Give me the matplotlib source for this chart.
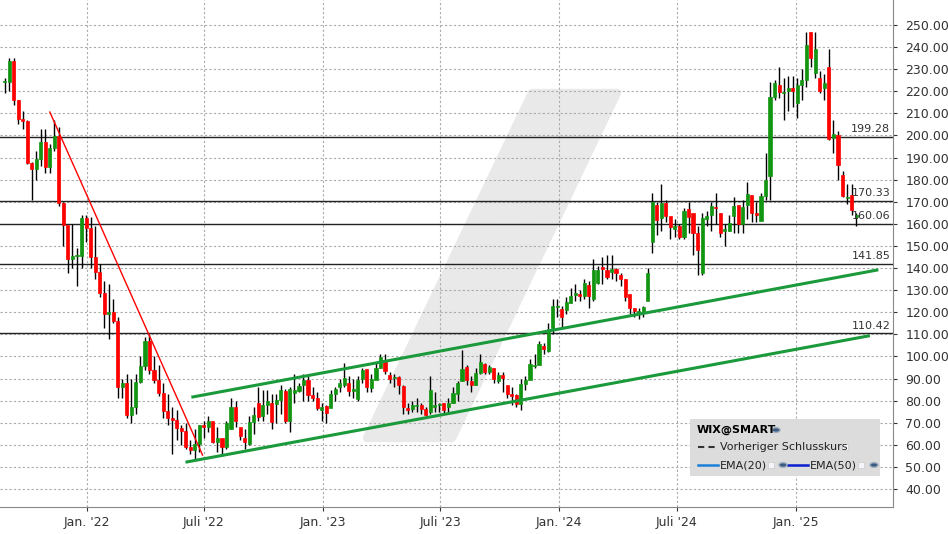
import matplotlib
matplotlib.use("Agg")
import matplotlib.pyplot as plt
import matplotlib.dates as mdates
from matplotlib.patches import Polygon, Rectangle
import pandas as pd

# weekly candles, WIX
opens = [224, 224, 233.7, 216, 207.5, 206.7, 187.4, 185, 189.4, 197.2,
         185.9, 194.5, 199.8, 169.3, 159.5, 144.1, 145.5, 145.5, 162.5, 158,
         145, 138.4, 128.6, 119, 120, 116, 86.4, 88.2, 73.5, 77.3,
         88.6, 95.7, 107, 93.9, 89.4, 83.4, 75.5, 72, 71.3, 67.5,
         66.3, 59.2, 57.7, 60.4, 69, 68.2, 70.6, 61.1, 63, 59.2,
         67, 77, 68, 63, 60.5, 70.5, 79, 73, 78, 79,
         78.5, 80.3, 84.5, 71, 83.5, 84.2, 87.1, 89.4, 82.6, 81,
         76, 77.6, 76.6, 83, 86, 87.1, 87.9, 84.6, 80.6, 89.7,
         94.2, 85.6, 89.4, 94.6, 98.4, 91.7, 90.1, 90.6, 86.7, 76.6,
         76.2, 77.4, 78.1, 76.1, 74.7, 77, 78, 79.1, 77, 78.9,
         83, 89, 95.1, 89.1, 87.1, 92.7, 96.5, 93.1, 95, 89.1,
         91.6, 87.1, 83, 82.6, 78.5, 87.6, 89.4, 95.7, 96, 104.8,
         102.3, 113, 122.2, 121.4, 120.9, 124.1, 127.9, 128.3, 127.2, 132.4,
         126, 133.2, 140.4, 139.1, 138.4, 139.5, 136.8, 134.9, 128.3, 121.8,
         119.8, 119.8, 125, 152, 168.5, 162.6, 169.6, 163.6, 157.6, 159,
         154.2, 166.6, 164.8, 156, 137.6, 162.1, 164, 167.5, 164.8, 156.9,
         157, 163.6, 168.6, 160, 168.6, 173.1, 164.8, 161.5, 172.6, 181.8,
         217.6, 222.8, 219.2, 220.3, 221.6, 214.9, 222.9, 225.1, 246.9, 228.1,
         226.2, 221.3, 230.8, 198.8, 200.2, 182.1, 171.6, 173.1, 163.2]
closes = [224, 233.7, 216, 207.5, 206.7, 187.4, 185, 189.4, 197.2, 185.9,
          194.5, 199.8, 169.3, 159.5, 144.1, 145.5, 145.5, 162.5, 158, 145,
          138.4, 128.6, 119, 120, 116, 86.4, 88.2, 73.5, 77.3, 88.6,
          95.7, 107, 93.9, 89.4, 83.4, 75.5, 72, 71.3, 67.5, 66.3,
          59.2, 57.7, 60.4, 69, 68.2, 70.6, 61.1, 63, 59.2, 69.8,
          77, 71, 64, 61.5, 70.5, 73.5, 72.5, 78, 80, 70.5,
          80.3, 85, 71, 85.2, 84.8, 86.7, 89.4, 82.6, 81, 76.6,
          77, 74.6, 83, 85.2, 87.9, 90.3, 84.6, 85.2, 89.4, 93.9,
          86.4, 89.7, 94.6, 99.6, 93.6, 89.8, 90.9, 87.1, 77, 76,
          78, 77.6, 76.1, 73.5, 84.8, 78, 78.5, 76, 79.1, 83.6,
          88.2, 94.2, 89.4, 87.1, 92.4, 97.7, 93.1, 95.4, 89.7, 91.6,
          90.4, 83, 82.2, 78.5, 87.6, 89.4, 96.6, 96, 105.7, 103.3,
          112.3, 122.9, 123, 118, 124.8, 127.4, 128.6, 127.4, 133.1, 127.4,
          139.2, 139.2, 139.5, 135.8, 139.5, 137.6, 135, 127, 121.8, 120.8,
          119.8, 122.3, 137.9, 170.1, 161.8, 169.3, 163.6, 158.5, 159, 154.2,
          166, 163.3, 156, 148.2, 162.5, 163.6, 168.1, 167, 156, 157,
          160.6, 168.1, 160, 167.5, 173.5, 164.8, 164, 172.6, 179.9, 217.3,
          223.9, 219.8, 219.8, 221.3, 220.3, 222.9, 225.1, 241, 235, 239,
          220.3, 223.9, 198.3, 200.7, 186.7, 172.6, 172, 166.3, 164]
highs = [226, 235, 235, 216, 211, 207, 188, 193, 203, 203,
         196, 207, 204, 170, 150, 160, 149, 164, 164, 163,
         159, 142, 134, 133, 126, 118, 90, 92, 90, 92,
         100, 109, 110, 100, 96, 88, 83, 77, 76, 69,
         70, 62, 67, 69, 71, 73, 70, 68, 61, 71,
         81, 80, 67, 67, 73, 77, 86, 85, 85, 83,
         83, 87, 85.5, 86, 92, 88, 92, 91, 86, 84,
         79, 78, 85, 86, 90, 97, 91, 90, 91, 95,
         94, 92, 97, 101, 101, 93, 92, 91, 87, 79,
         80, 81, 79, 77, 91, 84, 79, 79, 81, 86,
         89, 103, 96, 91, 95, 101, 97, 96, 95, 93,
         93, 85, 86, 83, 90, 91, 99, 101, 107, 106,
         115, 126, 126, 123, 127, 131, 133, 130, 135, 134,
         144, 141, 145, 146, 146, 140, 138, 135, 126, 122,
         122, 123, 140, 174, 170, 178, 171, 163, 162, 160,
         167, 170, 163, 159, 165, 166, 170, 174, 165, 160,
         164, 172, 168, 171, 179, 170, 170, 174, 192, 224,
         225, 231, 226, 227, 227, 226, 230, 247, 247, 247,
         229, 228, 239, 207, 202, 184, 178, 178, 165]
lows = [219, 220, 214, 205, 203, 187, 171, 180, 186, 183,
        183, 193, 168, 150, 138, 140, 132, 140, 152, 140,
        135, 127, 113, 108, 115, 81, 81, 72, 70, 74,
        88, 94, 92, 88, 82, 72, 69, 56, 62, 60,
        58, 56, 53, 57, 63, 66, 61, 57, 55, 58,
        67, 68, 62, 58, 60, 65, 71, 71, 74, 67,
        70, 74, 70, 66, 79, 84, 80, 80, 80, 76,
        71, 70, 77, 80, 84, 86, 82, 81, 80, 88,
        84, 84, 90, 95, 92, 88, 86, 83, 74, 74,
        75, 75, 74, 73, 74, 75, 75, 74, 74, 79,
        80, 89, 87, 84, 87, 92, 92, 92, 88, 88,
        84, 81, 78, 77, 76, 85, 90, 95, 96, 101,
        102, 110, 118, 113, 119, 124, 125, 125, 126, 122,
        125, 133, 133, 135, 135, 134, 132, 125, 119, 118,
        117, 118, 127, 147, 155, 157, 161, 153, 154, 153,
        153, 156, 146, 137, 137, 159, 157, 160, 154, 150,
        157, 156, 156, 156, 162, 161, 161, 162, 171, 171,
        216, 217, 207, 211, 213, 208, 216, 222, 231, 226,
        219, 216, 198, 192, 180, 172, 169, 164, 159]
dates = pd.date_range("2021-08-27", periods=len(closes), freq="7D")

levels = [199.28, 170.33, 160.06, 141.85, 110.42]
red_line = (["2021-11-05", "2022-06-29"], [210.6, 55.4])
upper_chan = (["2022-06-14", "2025-05-06"], [81.7, 139.1])
lower_chan = (["2022-06-05", "2025-04-23"], [52.3, 109.3])
tick_dates = ["2022-01-01", "2022-07-01", "2023-01-01", "2023-07-01",
              "2024-01-01", "2024-07-01", "2025-01-01"]
tick_labels = ["Jan. '22", "Juli '22", "Jan. '23", "Juli '23",
               "Jan. '24", "Juli '24", "Jan. '25"]

GREEN = "#129612"
RED = "#ff0000"

fig = plt.figure(figsize=(9.48, 5.34), dpi=100)
fig.patch.set_facecolor("white")

ax = fig.add_axes([0, 1 - 507 / 534, 893 / 948, 507 / 534])

# watermark behind the candles
wm = [(367, 438), (532, 93), (617, 93), (452, 438)]
ax.add_patch(Polygon([(x / 948, 1 - y / 534) for x, y in wm], closed=True,
                     transform=fig.transFigure, facecolor="#e9e9e9",
                     edgecolor="#e9e9e9", lw=6, joinstyle="round", zorder=0.5))

xs = mdates.date2num(dates)
for x, o, h, l, c in zip(xs, opens, highs, lows, closes):
    col = GREEN if c >= o else RED
    ax.vlines(x, l, h, color="black", lw=1, zorder=3)
    bot, top = min(o, c), max(o, c)
    if top - bot < 0.6:
        top = bot + 0.6
    ax.add_patch(Rectangle((x - 2.4, bot), 4.8, top - bot, facecolor=col,
                           edgecolor=col, lw=0.5, zorder=4))

for lv in levels:
    ax.axhline(lv, color="#222222", lw=1, zorder=2)
    ax.text(0.997, lv + 1.2, f"{lv:.2f}", transform=ax.get_yaxis_transform(),
            ha="right", va="bottom", fontsize=8, color="#333333", zorder=5)

for (d, v), col, w in [(red_line, RED, 1), (upper_chan, "#1a9a3a", 2.2),
                       (lower_chan, "#1a9a3a", 2.2)]:
    ax.plot(pd.to_datetime(d), v, color=col, lw=w, zorder=5)

ax.set_xlim(mdates.date2num(pd.Timestamp("2021-08-20")),
            mdates.date2num(pd.Timestamp("2025-05-31")))
ax.set_ylim(31.9, 261.3)
ax.set_xticks(mdates.date2num(pd.to_datetime(tick_dates)))
ax.set_xticklabels(tick_labels)
ax.set_yticks(range(40, 251, 10))
ax.set_yticklabels([f"{v:.2f}" for v in range(40, 251, 10)])
ax.yaxis.tick_right()
ax.tick_params(axis="both", labelsize=9, colors="#333333", length=3)
ax.tick_params(axis="y", pad=6)
ax.grid(True, color="#aaaaaa", ls=(0, (2, 2)), lw=0.8, zorder=1)
ax.set_axisbelow(True)
for s in ["top", "left"]:
    ax.spines[s].set_visible(False)
for s in ["right", "bottom"]:
    ax.spines[s].set_color("#888888")

# legend box
def fx(px):
    return px / 948
def fy(py):
    return 1 - py / 534

fig.patches.append(Rectangle((fx(690), fy(476)), fx(880) - fx(690), fy(419) - fy(476),
                             transform=fig.transFigure, facecolor="#dcdcdc",
                             edgecolor="none", zorder=10))
fig.text(fx(697), fy(430), "WIX@SMART", fontsize=8, fontweight="bold",
         va="center", zorder=11)
fig.add_artist(plt.Line2D([fx(698), fx(718)], [fy(447)] * 2, color="#333333",
                          ls=(0, (3, 2)), lw=1.5, transform=fig.transFigure, zorder=11))
fig.text(fx(720), fy(447), "Vorheriger Schlusskurs", fontsize=8, va="center",
         color="#222222", zorder=11)
fig.add_artist(plt.Line2D([fx(698), fx(718)], [fy(465)] * 2, color="#1a7fd9",
                          lw=1.8, transform=fig.transFigure, zorder=11))
fig.text(fx(720), fy(465), "EMA(20)", fontsize=8, va="center", color="#222222", zorder=11)
fig.add_artist(plt.Line2D([fx(788), fx(808)], [fy(465)] * 2, color="#0a1ed0",
                          lw=1.8, transform=fig.transFigure, zorder=11))
fig.text(fx(810), fy(465), "EMA(50)", fontsize=8, va="center", color="#222222", zorder=11)
for px, py in [(842, 447), (768, 465), (858, 465)]:
    fig.patches.append(Rectangle((fx(px), fy(py + 3)), fx(6), 6 / 534,
                                 transform=fig.transFigure, facecolor="#f4f4fa",
                                 edgecolor="#cccccc", lw=0.5, zorder=11))
for px, py in [(776, 430), (783, 465), (874, 465)]:
    fig.patches.append(plt.Circle((fx(px), fy(py)), 4 / 948, transform=fig.transFigure,
                                  facecolor="#3a5a80", edgecolor="#9ab", zorder=11))

fig.savefig("out.png", dpi=100)
